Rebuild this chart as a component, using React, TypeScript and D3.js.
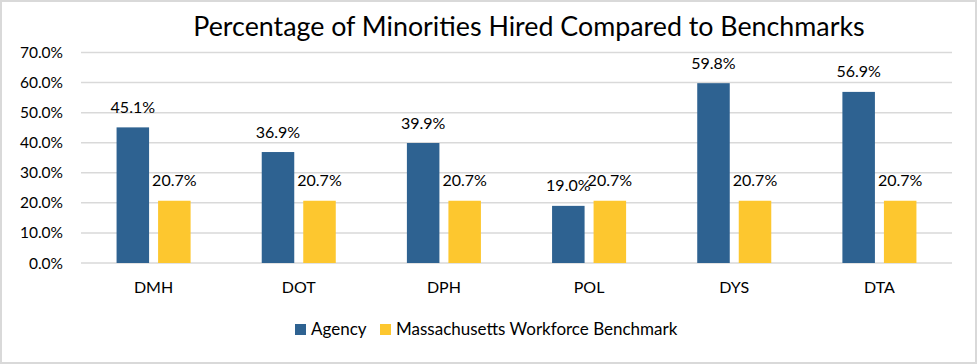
import * as d3 from "d3";

const agencies = ["DMH", "DOT", "DPH", "POL", "DYS", "DTA"];
const agencyValues = [45.1, 36.9, 39.9, 19.0, 59.8, 56.9];
const benchmarkValues = [20.7, 20.7, 20.7, 20.7, 20.7, 20.7];
const yTicks = [0, 10, 20, 30, 40, 50, 60, 70];
const seriesNames = ["Agency", "Massachusetts Workforce Benchmark"];
const seriesColors = ["#2E6291", "#FDC72F"];

const width = 977;
const height = 364;
const margin = { top: 52.5, right: 25, bottom: 101, left: 81 };
const font = "Lato, 'Open Sans', sans-serif";

export default function App() {
  const x = d3.scaleBand<string>()
    .domain(agencies)
    .range([margin.left, width - margin.right]);
  const y = d3.scaleLinear()
    .domain([0, 70])
    .range([height - margin.bottom, margin.top]);

  const barW = x.bandwidth() * 0.224;
  const gap = x.bandwidth() * 0.062;
  const fmt = (v: number) => v.toFixed(1) + "%";

  const rows = agencies.map((a, i) => ({
    agency: a,
    values: [agencyValues[i], benchmarkValues[i]],
  }));

  return (
    <svg
      width={width}
      height={height}
      style={{ position: "absolute", left: 0, top: 0, background: "#fff" }}
      fontFamily={font}
    >
      <rect x={1} y={1} width={width - 2} height={height - 2} fill="#fff" stroke="#d9d9d9" strokeWidth={2} />
      <text x={529} y={36} textAnchor="middle" fontSize={26.8} fill="#000">
        Percentage of Minorities Hired Compared to Benchmarks
      </text>

      {/* gridlines and y labels */}
      {yTicks.map((t) => (
        <g key={t}>
          <line
            x1={margin.left}
            x2={width - margin.right}
            y1={y(t)}
            y2={y(t)}
            stroke="#d9d9d9"
            strokeWidth={1.5}
          />
          <text x={63} y={y(t) + 5.5} textAnchor="end" fontSize={15.5} fill="#000">
            {fmt(t)}
          </text>
        </g>
      ))}

      {rows.map((r) => {
        const c = (x(r.agency) ?? 0) + x.bandwidth() / 2;
        return (
          <g key={r.agency}>
            {r.values.map((v, j) => {
              const bx = j === 0 ? c - gap / 2 - barW : c + gap / 2;
              return (
                <g key={j}>
                  <rect x={bx} y={y(v)} width={barW} height={y(0) - y(v)} fill={seriesColors[j]} />
                  <text x={bx + barW / 2} y={y(v) - 14.5} textAnchor="middle" fontSize={16} fill="#000">
                    {fmt(v)}
                  </text>
                </g>
              );
            })}
            <text x={c} y={292.5} textAnchor="middle" fontSize={16} fill="#000">
              {r.agency}
            </text>
          </g>
        );
      })}

      {/* legend */}
      <g>
        <rect x={295} y={324} width={11} height={11} fill={seriesColors[0]} />
        <text x={311} y={335} fontSize={17} fill="#000">{seriesNames[0]}</text>
        <rect x={380} y={324} width={11} height={11} fill={seriesColors[1]} />
        <text x={396} y={335} fontSize={17} fill="#000">{seriesNames[1]}</text>
      </g>
    </svg>
  );
}
